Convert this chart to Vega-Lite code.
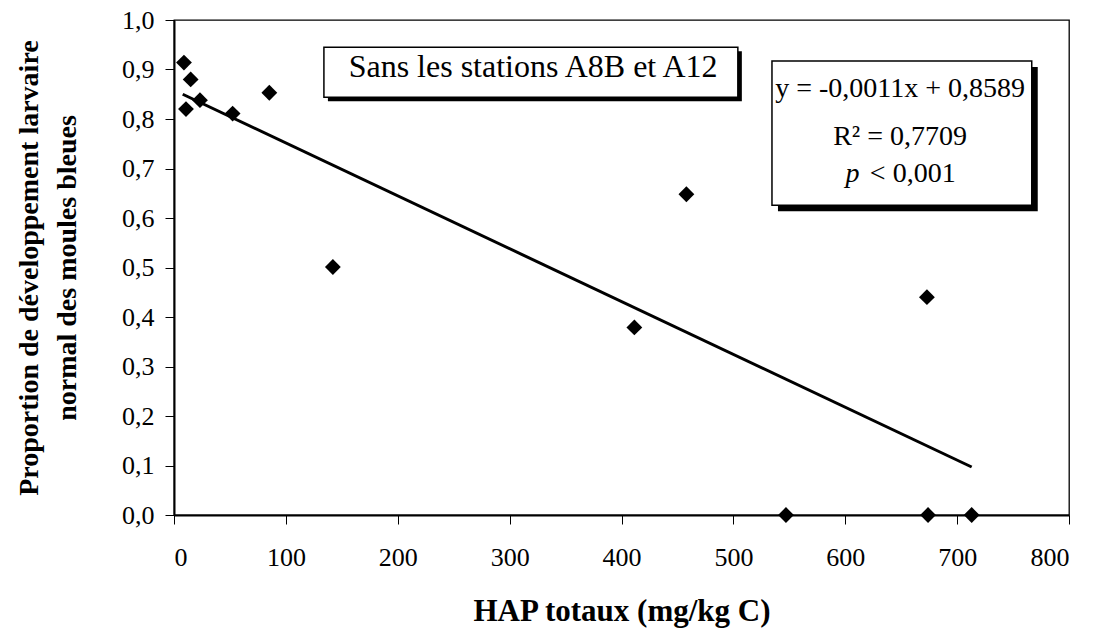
{
  "$schema": "https://vega.github.io/schema/vega-lite/v6.json",
  "width": 895,
  "height": 495,
  "autosize": {"type": "none"},
  "padding": {"left": 174, "top": 20, "right": 26, "bottom": 118},
  "background": "white",
  "config": {
    "view": {"stroke": "black", "strokeWidth": 1.3},
    "font": "Liberation Serif",
    "axis": {
      "grid": false,
      "domainColor": "black",
      "domainWidth": 2,
      "tickColor": "black",
      "tickWidth": 1,
      "tickSize": 9,
      "labelFont": "Liberation Serif",
      "labelFontSize": 26,
      "labelColor": "black",
      "titleFont": "Liberation Serif",
      "titleFontWeight": "bold",
      "titleColor": "black"
    }
  },
  "datasets": {
    "points": [
      {"hap": 8.9, "prop": 0.914},
      {"hap": 10.7, "prop": 0.820},
      {"hap": 14.9, "prop": 0.880},
      {"hap": 23.2, "prop": 0.838},
      {"hap": 52.4, "prop": 0.811},
      {"hap": 85.2, "prop": 0.853},
      {"hap": 142, "prop": 0.501},
      {"hap": 411.5, "prop": 0.379},
      {"hap": 458, "prop": 0.648},
      {"hap": 547, "prop": 0.0},
      {"hap": 674, "prop": 0.0},
      {"hap": 713, "prop": 0.0},
      {"hap": 673, "prop": 0.440}
    ],
    "fit": [
      {"hap": 7.8, "prop": 0.850},
      {"hap": 713, "prop": 0.097}
    ]
  },
  "layer": [
    {
      "data": {"name": "fit"},
      "mark": {"type": "line", "color": "black", "strokeWidth": 3},
      "encoding": {
        "x": {
          "field": "hap", "type": "quantitative",
          "scale": {"domain": [0, 800], "nice": false},
          "axis": {
            "title": "HAP totaux (mg/kg C)",
            "titleFontSize": 31,
            "values": [0, 100, 200, 300, 400, 500, 600, 700, 800],
            "labelPadding": 20,
            "titlePadding": 26
          }
        },
        "y": {
          "field": "prop", "type": "quantitative",
          "scale": {"domain": [0, 1], "nice": false},
          "axis": {
            "title": ["Proportion de développement larvaire", "normal des moules bleues"],
            "titleFontSize": 28,
            "titleLineHeight": 38,
            "values": [0, 0.1, 0.2, 0.3, 0.4, 0.5, 0.6, 0.7, 0.8, 0.9, 1.0],
            "labelExpr": "replace(format(datum.value, '.1f'), '.', ',')",
            "labelPadding": 11,
            "titlePadding": 40
          }
        }
      }
    },
    {
      "data": {"name": "points"},
      "mark": {"type": "point", "shape": "diamond", "filled": true, "color": "black", "opacity": 1, "size": 250},
      "encoding": {
        "x": {"field": "hap", "type": "quantitative"},
        "y": {"field": "prop", "type": "quantitative"}
      }
    },
    {
      "data": {"values": [{}]},
      "mark": {"type": "rect", "color": "black", "xOffset": 4, "x2Offset": 4, "yOffset": 4, "y2Offset": 4},
      "encoding": {
        "x": {"datum": 134}, "x2": {"datum": 504},
        "y": {"datum": 0.945}, "y2": {"datum": 0.844}
      }
    },
    {
      "data": {"values": [{}]},
      "mark": {"type": "rect", "fill": "white", "stroke": "black", "strokeWidth": 1.5},
      "encoding": {
        "x": {"datum": 134}, "x2": {"datum": 504},
        "y": {"datum": 0.945}, "y2": {"datum": 0.844}
      }
    },
    {
      "data": {"values": [{"t": "Sans les stations A8B et A12"}]},
      "mark": {"type": "text", "font": "Liberation Serif", "fontSize": 32, "color": "black", "align": "center", "baseline": "alphabetic"},
      "encoding": {
        "x": {"datum": 321}, "y": {"datum": 0.885},
        "text": {"field": "t"}
      }
    },
    {
      "data": {"values": [{}]},
      "mark": {"type": "rect", "color": "black", "xOffset": 6, "x2Offset": 6, "yOffset": 6, "y2Offset": 6},
      "encoding": {
        "x": {"datum": 534.5}, "x2": {"datum": 766.7},
        "y": {"datum": 0.917}, "y2": {"datum": 0.626}
      }
    },
    {
      "data": {"values": [{}]},
      "mark": {"type": "rect", "fill": "white", "stroke": "black", "strokeWidth": 1.5},
      "encoding": {
        "x": {"datum": 534.5}, "x2": {"datum": 766.7},
        "y": {"datum": 0.917}, "y2": {"datum": 0.626}
      }
    },
    {
      "data": {"values": [{"t": "y = -0,0011x + 0,8589", "px": 649, "py": 0.8444}, {"t": "R² = 0,7709", "px": 649, "py": 0.7475}]},
      "mark": {"type": "text", "font": "Liberation Serif", "fontSize": 28, "color": "black", "align": "center", "baseline": "alphabetic"},
      "encoding": {
        "x": {"field": "px", "type": "quantitative"},
        "y": {"field": "py", "type": "quantitative"},
        "text": {"field": "t"}
      }
    },
    {
      "data": {"values": [{"t": "p"}]},
      "mark": {"type": "text", "font": "Liberation Serif", "fontSize": 28, "fontStyle": "italic", "color": "black", "align": "center", "baseline": "alphabetic"},
      "encoding": {
        "x": {"datum": 606.5}, "y": {"datum": 0.6727},
        "text": {"field": "t"}
      }
    },
    {
      "data": {"values": [{"t": "< 0,001"}]},
      "mark": {"type": "text", "font": "Liberation Serif", "fontSize": 28, "color": "black", "align": "left", "baseline": "alphabetic"},
      "encoding": {
        "x": {"datum": 622}, "y": {"datum": 0.6727},
        "text": {"field": "t"}
      }
    }
  ]
}
